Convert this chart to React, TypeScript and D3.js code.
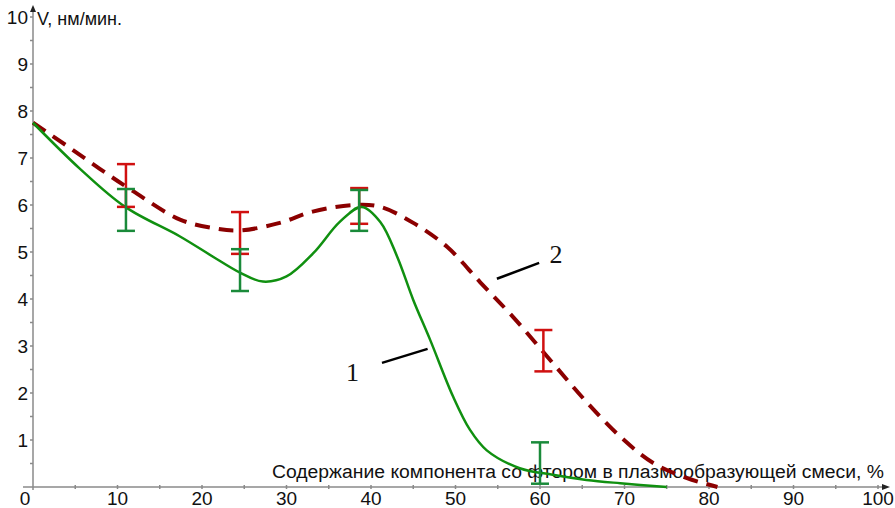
import React from 'react';
import * as d3 from 'd3';

// curve 1 (solid green) and curve 2 (dashed dark red)
const curve1: [number, number][] = [
  [0, 7.75], [5.5, 6.78], [10.9, 5.96], [17.4, 5.33],
  [21.3, 4.9], [24.5, 4.56], [27.2, 4.37], [30, 4.48], [33.2, 4.98], [36.3, 5.64],
  [38.9, 5.96], [41.1, 5.64], [43.1, 4.9], [45, 3.98], [47, 3.13], [49.7, 1.93],
  [51.7, 1.22], [53.7, 0.78], [57.6, 0.4], [61.5, 0.26], [65.5, 0.15], [69.5, 0.08], [75, 0],
];
const curve2: [number, number][] = [
  [0, 7.75], [4, 7.26], [7.9, 6.77], [11.8, 6.3], [17.4, 5.69],
  [21.3, 5.51], [24.5, 5.46], [29.2, 5.62], [33.1, 5.86], [38, 6.0],
  [41.1, 5.96], [45, 5.62], [49, 5.11], [52.9, 4.36], [56.8, 3.62], [61.5, 2.64],
  [65.5, 1.81], [69.5, 1.07], [73.4, 0.51], [77.4, 0.19], [81, 0],
];

// error bars: [x, low, high]
const err1: [number, number, number][] = [
  [11, 5.45, 6.34], [24.5, 4.17, 5.06], [38.6, 5.45, 6.32], [60, 0.07, 0.95],
];
const err2: [number, number, number][] = [
  [11, 5.96, 6.87], [24.5, 4.96, 5.85], [38.6, 5.6, 6.36], [60.4, 2.46, 3.34],
];

const xTicks = [0, 10, 20, 30, 40, 50, 60, 70, 80, 90, 100];
const yTicks = [1, 2, 3, 4, 5, 6, 7, 8, 9, 10];
const yUnit = 'V, нм/мин.';
const xTitle = 'Содержание компонента со фтором в плазмообразующей смеси, %';

// annotation leaders: [label, labelX, labelY, x1, y1, x2, y2]
const notes: [string, number, number, number, number, number, number][] = [
  ['1', 37.8, 2.45, 41.3, 2.64, 46.7, 2.94],
  ['2', 61.9, 4.96, 54.9, 4.43, 59.9, 4.77],
];

export default function App() {
  const W = 895, H = 508;
  const x = d3.scaleLinear().domain([0, 100]).range([33, 878]);
  const y = d3.scaleLinear().domain([0, 10]).range([487, 17]);
  const line = d3.line<[number, number]>()
    .x(d => x(d[0])).y(d => y(d[1]))
    .curve(d3.curveCatmullRom.alpha(0.5));

  const minorX = d3.range(5, 100, 10);
  const minorY = d3.range(0.5, 10, 1);
  const font = '"Liberation Sans", Arial, sans-serif';
  const cap = 9;

  const bars = (data: [number, number, number][], color: string) =>
    data.map((d, i) => (
      <g key={i} stroke={color} strokeWidth={2.5}>
        <line x1={x(d[0])} x2={x(d[0])} y1={y(d[1])} y2={y(d[2])} />
        <line x1={x(d[0]) - cap} x2={x(d[0]) + cap} y1={y(d[1])} y2={y(d[1])} />
        <line x1={x(d[0]) - cap} x2={x(d[0]) + cap} y1={y(d[2])} y2={y(d[2])} />
      </g>
    ));

  return (
    <svg width={W} height={H} style={{ position: 'absolute', left: 0, top: 0, background: '#fff' }}>
      {/* axes */}
      <g stroke="#8a8a8a" strokeWidth={1.5}>
        <line x1={23} x2={884} y1={y(0)} y2={y(0)} />
        <line x1={x(0)} x2={x(0)} y1={490} y2={10} />
        {xTicks.slice(1).map(t => (
          <line key={t} x1={x(t)} x2={x(t)} y1={y(0) - 2} y2={y(0) + 2} />
        ))}
        {minorX.map(t => (
          <line key={t} x1={x(t)} x2={x(t)} y1={y(0) - 2} y2={y(0) + 2} />
        ))}
        {yTicks.map(t => (
          <line key={t} x1={x(0) - 3} x2={x(0)} y1={y(t)} y2={y(t)} />
        ))}
        {minorY.map(t => (
          <line key={t} x1={x(0) - 3} x2={x(0)} y1={y(t)} y2={y(t)} />
        ))}
      </g>
      <path d={`M${x(0)},5 L${x(0) - 3},12 L${x(0) + 3},12 Z`} fill="#222" />
      <path d={`M890,${y(0)} L882,${y(0) - 3} L882,${y(0) + 3} Z`} fill="#222" />

      <g fontFamily={font} fontSize={19} fill="#111">
        {xTicks.map(t => (
          <text key={t} x={t === 0 ? x(t) - 8 : x(t)} y={505} textAnchor="middle">{t}</text>
        ))}
        {yTicks.map(t => (
          <text key={t} x={28} y={y(t) + 7} textAnchor="end">{t}</text>
        ))}
        <text x={37} y={25} fontSize={18}>{yUnit}</text>
        <text x={272} y={478} fontSize={18} textLength={612} lengthAdjust="spacingAndGlyphs">{xTitle}</text>
      </g>

      {/* curves */}
      <path d={line(curve2) || ''} fill="none" stroke="#8b0000" strokeWidth={4}
        strokeDasharray="15 9" />
      <path d={line(curve1) || ''} fill="none" stroke="#109010" strokeWidth={2.5} />

      {bars(err2, '#d01010')}
      {bars(err1, '#1a8a3a')}

      {notes.map(n => (
        <g key={n[0]}>
          <line x1={x(n[3])} y1={y(n[4])} x2={x(n[5])} y2={y(n[6])} stroke="#000" strokeWidth={2.5} />
          <text x={x(n[1])} y={y(n[2]) + 9} textAnchor="middle" fontFamily='"Liberation Serif", "Times New Roman", serif'
            fontSize={26} fill="#111">{n[0]}</text>
        </g>
      ))}
    </svg>
  );
}
